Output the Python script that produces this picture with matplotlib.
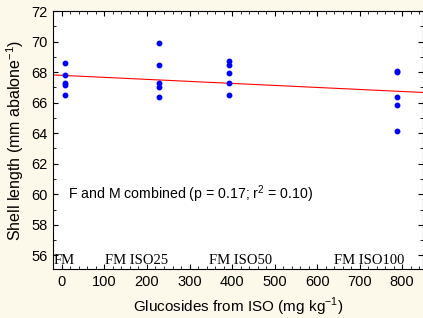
import numpy as np
import matplotlib
matplotlib.use("Agg")
import matplotlib.pyplot as plt
from matplotlib.ticker import MultipleLocator

# glucoside dose (mg/kg) per diet and measured shell lengths
x_fm = [7, 7, 7, 7, 7]
y_fm = [68.6, 67.82, 67.3, 67.13, 66.51]
x_iso25 = [229, 229, 229, 229, 229]
y_iso25 = [69.92, 68.48, 67.3, 67.04, 66.38]
x_iso50 = [394, 394, 394, 394, 394]
y_iso50 = [68.72, 68.46, 67.95, 67.3, 66.51]
x_iso100 = [789, 789, 789, 789, 789]
y_iso100 = [68.09, 67.98, 66.38, 65.86, 64.15]

# fitted regression line end points
fit_x = [-21, 849]
fit_y = [67.82, 66.67]

diet_labels = ["FM", "FM ISO25", "FM ISO50", "FM ISO100"]
diet_label_x = [-19, 101, 346, 640]

bg = "#fdf9ea"
plt.rcParams["font.family"] = ["Liberation Sans", "DejaVu Sans"]
plt.rcParams["mathtext.fontset"] = "custom"
plt.rcParams["mathtext.rm"] = "Liberation Sans"

fig = plt.figure(figsize=(4.23, 3.18), dpi=100, facecolor=bg)
ax = fig.add_axes([0.1253, 0.154, 0.8747, 0.811])
ax.set_facecolor("white")

ax.plot(fit_x, fit_y, color="red", lw=0.8)
xs = x_fm + x_iso25 + x_iso50 + x_iso100
ys = y_fm + y_iso25 + y_iso50 + y_iso100
ax.plot(xs, ys, "o", color="blue", ms=3.2, mec="blue")

for lab, lx in zip(diet_labels, diet_label_x):
    ax.text(lx, 55.25, lab, family=["Liberation Serif", "DejaVu Serif"],
            fontsize=10.5, ha="left", va="bottom")

ax.text(15, 60.0, "F and M combined (p = 0.17; r$^\\mathrm{2}$ = 0.10)",
        fontsize=10.2, va="center", ha="left")

ax.set_xlim(-21, 849)
ax.set_ylim(55.1, 72)
ax.xaxis.set_major_locator(MultipleLocator(100))
ax.xaxis.set_minor_locator(MultipleLocator(20))
ax.yaxis.set_major_locator(MultipleLocator(2))
ax.yaxis.set_minor_locator(MultipleLocator(1))
ax.tick_params(which="both", direction="in", top=True, right=True,
               labelsize=10.5, colors="black")
ax.tick_params(which="major", length=3.5, width=0.8, pad=4)
ax.tick_params(which="minor", length=2, width=0.6)
for s in ax.spines.values():
    s.set_linewidth(0.8)

ax.set_xlabel("Glucosides from ISO (mg kg$^\\mathrm{-1}$)", fontsize=11,
              labelpad=5)
ax.set_ylabel("Shell length (mm abalone$^\\mathrm{-1}$)", fontsize=11.5,
              labelpad=4)

fig.savefig("out.png", dpi=100, facecolor=bg)
